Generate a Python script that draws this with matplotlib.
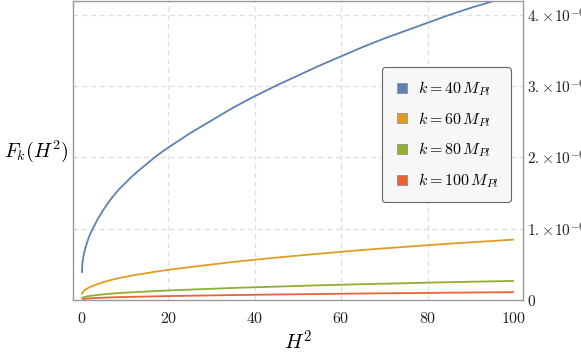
import matplotlib
matplotlib.use("Agg")
import matplotlib.pyplot as plt
from matplotlib.lines import Line2D

plt.rcParams['mathtext.fontset'] = 'cm'
plt.rcParams['font.family'] = ['DejaVu Serif']

# Data (values in units of 1e-6)
h2 = [0, 0.05, 0.1, 0.2, 0.3, 0.45, 0.6, 0.8, 1, 1.3, 1.6, 2, 2.5, 3, 3.5, 4, 5, 6, 7, 8.5,
      10, 11.5, 13, 15, 17, 19, 22, 25, 30, 35, 40, 45, 50, 55, 60, 65, 70, 75, 80, 85, 90, 95, 100]
f_k40 = [0.38, 0.47, 0.51, 0.56, 0.60, 0.65, 0.69, 0.73, 0.77, 0.83, 0.88, 0.94, 1.00, 1.06,
         1.12, 1.17, 1.27, 1.36, 1.44, 1.55, 1.64, 1.73, 1.81, 1.91, 2.01, 2.10, 2.22, 2.34,
         2.52, 2.70, 2.86, 3.01, 3.15, 3.29, 3.42, 3.55, 3.67, 3.78, 3.89, 4.00, 4.10, 4.19, 4.29]
f_k60 = [0.075, 0.093, 0.100, 0.110, 0.119, 0.128, 0.136, 0.144, 0.152, 0.164, 0.174, 0.186,
         0.198, 0.210, 0.221, 0.231, 0.251, 0.269, 0.285, 0.306, 0.324, 0.342, 0.358, 0.377,
         0.397, 0.415, 0.439, 0.462, 0.498, 0.534, 0.565, 0.595, 0.623, 0.650, 0.676, 0.702,
         0.725, 0.747, 0.769, 0.790, 0.810, 0.828, 0.848]
f_k80 = [0.024, 0.029, 0.032, 0.035, 0.0375, 0.041, 0.043, 0.046, 0.048, 0.052, 0.055, 0.059,
         0.0625, 0.066, 0.070, 0.073, 0.079, 0.085, 0.090, 0.097, 0.1025, 0.108, 0.113, 0.119,
         0.126, 0.131, 0.139, 0.146, 0.1575, 0.169, 0.179, 0.188, 0.197, 0.206, 0.214, 0.222,
         0.229, 0.236, 0.243, 0.250, 0.256, 0.262, 0.268]
f_k100 = [0.0097, 0.012, 0.013, 0.0144, 0.0154, 0.0167, 0.0177, 0.0187, 0.0197, 0.0213, 0.0226,
          0.0241, 0.0256, 0.0272, 0.0287, 0.030, 0.0326, 0.0349, 0.0369, 0.0397, 0.042, 0.0444,
          0.0464, 0.049, 0.0515, 0.0538, 0.0569, 0.060, 0.0646, 0.0692, 0.0733, 0.0772, 0.0808,
          0.0844, 0.0877, 0.091, 0.0941, 0.0969, 0.0997, 0.1026, 0.1051, 0.1074, 0.110]
series = [f_k40, f_k60, f_k80, f_k100]
labels = [r'$k=40\,M_{Pl}$', r'$k=60\,M_{Pl}$', r'$k=80\,M_{Pl}$', r'$k=100\,M_{Pl}$']
colors = ['#5E81B5', '#E19C24', '#8FB032', '#EB6235']
scale = 1e-6

xticks = [0, 20, 40, 60, 80, 100]
xticklabels = ['$0$', '$20$', '$40$', '$60$', '$80$', '$100$']
yticks = [0, 1e-6, 2e-6, 3e-6, 4e-6]
yticklabels = ['$0$', r'$1.\!\times\!10^{-6}$', r'$2.\!\times\!10^{-6}$',
               r'$3.\!\times\!10^{-6}$', r'$4.\!\times\!10^{-6}$']

fig = plt.figure(figsize=(5.81, 3.57), dpi=100)
ax = fig.add_axes([73/581, 1 - 300/357, 450/581, 299/357])

for ys, c in zip(series, colors):
    ax.plot(h2, [v * scale for v in ys], color=c, lw=1.3, solid_capstyle='butt',
            solid_joinstyle='round')

ax.set_xlim(-2.08, 102.1)
ax.set_ylim(0, 4.196e-6)

ax.set_xticks(xticks)
ax.set_xticklabels(xticklabels, fontsize=11.5)
ax.set_yticks(yticks)
ax.set_yticklabels(yticklabels, fontsize=11)
ax.yaxis.tick_right()
ax.tick_params(length=0, colors='#222222')
ax.tick_params(axis='x', pad=7)
ax.tick_params(axis='y', pad=3)

for v in [20, 40, 60, 80]:
    ax.axvline(v, color='#dddddd', lw=0.9, ls=(0, (4, 3)), zorder=0)
for v in [1e-6, 2e-6, 3e-6, 4e-6]:
    ax.axhline(v, color='#dddddd', lw=0.9, ls=(0, (4, 3)), zorder=0)

for s in ax.spines.values():
    s.set_color('#999999')
    s.set_linewidth(1.0)

ax.set_xlabel(r'$H^2$', fontsize=15, labelpad=2)
fig.text(4/581, 1 - 151/357, r'$F_k(H^2)$', fontsize=14.5, ha='left', va='center')

handles = [Line2D([], [], ls='none', marker='s', markersize=7.5, markerfacecolor=c,
                  markeredgecolor='#888888', markeredgewidth=0.5) for c in colors]
leg = ax.legend(handles, labels, loc='upper left', bbox_to_anchor=(0.686, 0.778),
                borderaxespad=0, fontsize=11.5, frameon=True, fancybox=True,
                labelspacing=0.75, handletextpad=0.55, handlelength=1.0,
                borderpad=0.75, framealpha=1)
leg.get_frame().set_facecolor('#f7f7f7')
leg.get_frame().set_edgecolor('#666666')
leg.get_frame().set_linewidth(0.8)

fig.savefig('out.png', dpi=100)
